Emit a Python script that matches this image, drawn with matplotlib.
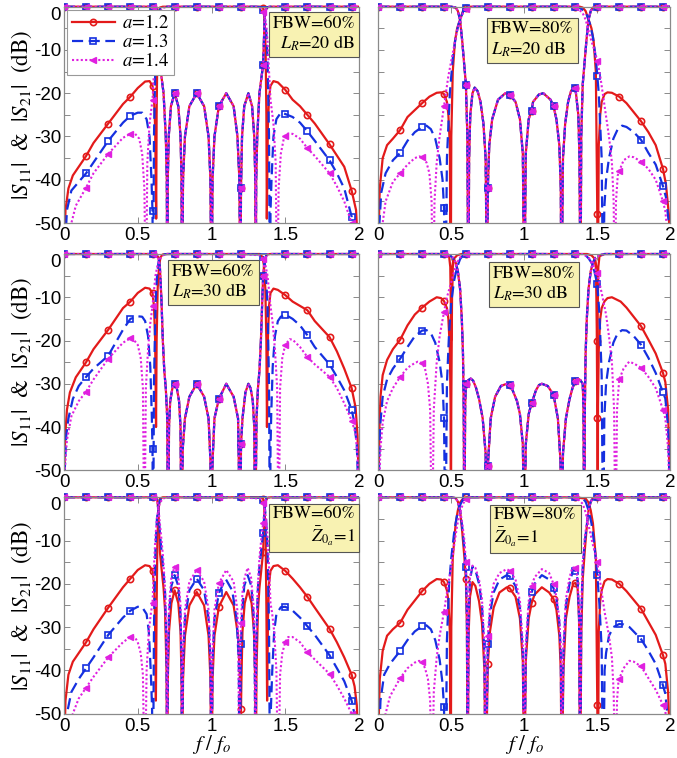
import numpy as np
import matplotlib
matplotlib.use("Agg")
import matplotlib.pyplot as plt
from matplotlib.transforms import Bbox, TransformedBbox

plt.rcParams['mathtext.fontset'] = 'stix'
plt.rcParams['font.family'] = ['Liberation Sans', 'DejaVu Sans']

# =============================================================================
# Data: (f/fo, dB) pairs, one list per curve
# =============================================================================

A_VALUES = [1.2, 1.3, 1.4]

# ---- Panel 1 : FBW=60%, LR=20 dB
P1_S21_12 = [(0, -70), (0.004, -55), (0.01, -47), (0.03, -42), (0.06, -39), (0.1, -37), (0.15, -34.5), (0.2, -31.5),
             (0.3, -27), (0.4, -22.5), (0.45, -20.8), (0.5, -18.8), (0.55, -17.3), (0.58, -17.2), (0.6, -18.3),
             (0.61, -21), (0.618, -28), (0.625, -49), (0.628, -25), (0.633, -10), (0.64, -3), (0.65, -0.2),
             (0.67, 0), (0.75, 0), (0.9, 0), (1.05, 0), (1.2, 0), (1.33, 0), (1.35, -0.2), (1.36, -3),
             (1.367, -10), (1.372, -25), (1.375, -49), (1.382, -28), (1.39, -21), (1.4, -18.3), (1.42, -17.2),
             (1.45, -17.5), (1.5, -19.2), (1.55, -21.5), (1.6, -23), (1.65, -25), (1.7, -27), (1.8, -31.8),
             (1.9, -37), (1.95, -42.5), (1.98, -47), (2.0, -60)]
P1_S21_13 = [(0, -70), (0.008, -55), (0.02, -47), (0.05, -42.5), (0.1, -40.5), (0.15, -38.5), (0.2, -36), (0.3, -31),
             (0.4, -26.8), (0.45, -25.2), (0.5, -24.5), (0.53, -24.5), (0.56, -26), (0.58, -30), (0.593, -40),
             (0.6, -47.3), (0.604, -70), (0.61, -30), (0.62, -12), (0.63, -5), (0.64, -2.2), (0.65, -0.7),
             (0.67, -0.1), (0.7, 0), (0.75, 0), (0.9, 0), (1.05, 0), (1.2, 0), (1.3, 0), (1.33, -0.1), (1.35, -0.7),
             (1.36, -2.2), (1.37, -5), (1.38, -12), (1.39, -30), (1.396, -70), (1.4, -47.3), (1.407, -40),
             (1.42, -30), (1.44, -26), (1.47, -24.5), (1.5, -24.8), (1.55, -25.5), (1.6, -26.8), (1.65, -28.8),
             (1.7, -31), (1.8, -35.5), (1.85, -38.5), (1.9, -42), (1.95, -48.5), (1.97, -60), (2.0, -70)]
P1_S21_14 = [(0, -70), (0.03, -60), (0.05, -50), (0.08, -46), (0.15, -41.8), (0.2, -38.5), (0.3, -34), (0.4, -30.3),
             (0.45, -29.4), (0.48, -29.3), (0.51, -30.5), (0.53, -34), (0.545, -42), (0.555, -70), (0.565, -36),
             (0.58, -27), (0.6, -21.5), (0.61, -15), (0.62, -8), (0.63, -4), (0.64, -2.2), (0.65, -1.3),
             (0.67, -0.3), (0.7, 0), (0.75, 0), (0.9, 0), (1.05, 0), (1.2, 0), (1.3, 0), (1.33, -0.3), (1.35, -1.3),
             (1.36, -2.2), (1.37, -4), (1.38, -8), (1.39, -15), (1.4, -21.5), (1.42, -27), (1.435, -36),
             (1.445, -70), (1.455, -42), (1.47, -34), (1.49, -30.5), (1.5, -29.8), (1.52, -29.3), (1.55, -29.4),
             (1.6, -30.5), (1.65, -32.7), (1.7, -34.5), (1.8, -38.5), (1.85, -41.5), (1.9, -45), (1.95, -50),
             (1.97, -60), (2.0, -70)]
P1_S11_12 = [(0, 0), (0.15, 0), (0.3, 0), (0.45, 0), (0.6, 0), (0.62, -0.1), (0.632, -0.6), (0.64, -3), (0.65, -13.5),
             (0.66, -16), (0.675, -20), (0.69, -30), (0.697, -40), (0.7, -70), (0.7035, -40), (0.71, -30),
             (0.725, -23), (0.75, -20), (0.775, -23), (0.79, -30), (0.797, -40), (0.8, -70), (0.807, -40),
             (0.82, -30), (0.85, -23), (0.9, -20), (0.95, -23), (0.98, -30), (0.993, -40), (1.0, -70),
             (1.007, -40), (1.02, -30), (1.05, -23), (1.1, -20), (1.15, -23), (1.176, -30), (1.189, -40),
             (1.196, -70), (1.2, -42), (1.207, -30), (1.222, -23), (1.25, -20), (1.275, -23), (1.29, -30),
             (1.297, -40), (1.3, -70), (1.303, -40), (1.31, -30), (1.325, -20), (1.34, -16), (1.35, -13.5),
             (1.36, -3), (1.368, -0.6), (1.38, -0.1), (1.4, 0), (1.5, 0), (1.65, 0), (1.8, 0), (1.95, 0), (2.0, 0)]
P1_S11_13 = P1_S11_12
P1_S11_14 = P1_S11_12

# ---- Panel 2 : FBW=80%, LR=20 dB
P2_S21_12 = [(0, -70), (0.004, -50), (0.01, -42), (0.03, -35), (0.06, -32), (0.1, -30.5), (0.15, -28.5), (0.2, -25.5),
             (0.3, -22.3), (0.35, -20.8), (0.4, -19.9), (0.43, -19.8), (0.45, -20.2), (0.47, -22), (0.48, -25),
             (0.49, -32), (0.496, -70), (0.5, -30), (0.51, -15), (0.525, -8), (0.54, -5), (0.56, -3), (0.58, -1),
             (0.6, -0.2), (0.62, 0), (0.75, 0), (0.9, 0), (1.05, 0), (1.2, 0), (1.35, 0), (1.38, 0), (1.4, -0.2),
             (1.42, -1), (1.44, -3), (1.46, -5), (1.475, -8), (1.49, -15), (1.5, -48), (1.503, -70), (1.51, -32),
             (1.52, -25), (1.53, -22), (1.55, -20.2), (1.57, -19.8), (1.6, -19.9), (1.65, -20.8), (1.7, -22.3),
             (1.8, -26.5), (1.85, -29), (1.9, -32), (1.95, -37.5), (1.97, -41), (1.99, -48), (2.0, -60)]
P2_S21_13 = [(0, -70), (0.008, -50), (0.02, -43), (0.05, -38.5), (0.1, -35.5), (0.15, -33.8), (0.2, -31), (0.25, -29),
             (0.3, -27.8), (0.33, -27.5), (0.36, -28.3), (0.39, -30.5), (0.42, -35), (0.44, -40), (0.45, -46.5),
             (0.46, -70), (0.47, -35), (0.49, -20), (0.51, -12), (0.53, -7), (0.55, -4), (0.56, -3), (0.58, -1.2),
             (0.6, -0.3), (0.62, 0), (0.75, 0), (0.9, 0), (1.05, 0), (1.2, 0), (1.35, 0), (1.38, -0.3),
             (1.42, -1.2), (1.44, -3), (1.45, -4), (1.47, -7), (1.49, -12), (1.5, -16), (1.51, -20), (1.53, -35),
             (1.54, -70), (1.548, -46.5), (1.56, -40), (1.58, -35), (1.61, -30.5), (1.64, -28.3), (1.67, -27.5),
             (1.7, -27.8), (1.75, -29), (1.8, -30.8), (1.85, -33.8), (1.9, -36.5), (1.95, -41.5), (1.97, -44),
             (1.99, -50), (2.0, -60)]
P2_S21_14 = [(0, -70), (0.02, -60), (0.03, -50), (0.05, -45), (0.1, -40.5), (0.15, -38.5), (0.2, -36.5), (0.25, -35),
             (0.28, -34.6), (0.3, -34.8), (0.33, -36), (0.35, -38.5), (0.365, -45), (0.375, -70), (0.385, -45),
             (0.4, -36), (0.42, -30), (0.45, -23), (0.48, -16), (0.5, -12.5), (0.52, -9), (0.54, -5.5), (0.56, -3),
             (0.58, -1.5), (0.6, -0.5), (0.63, 0), (0.75, 0), (0.9, 0), (1.05, 0), (1.2, 0), (1.35, 0), (1.37, -0.5),
             (1.4, -1.5), (1.42, -3), (1.44, -5.5), (1.46, -8), (1.48, -10), (1.5, -12.5), (1.52, -16), (1.55, -23),
             (1.58, -30), (1.6, -36), (1.612, -45), (1.62, -70), (1.628, -45), (1.64, -39), (1.65, -38),
             (1.68, -35.5), (1.72, -34.6), (1.75, -34.8), (1.8, -35.8), (1.85, -37.5), (1.9, -40), (1.95, -45),
             (1.966, -47.3), (1.98, -52), (2.0, -70)]
P2_S11_12 = [(0, 0), (0.15, 0), (0.3, 0), (0.45, 0), (0.5, 0), (0.53, -0.2), (0.545, -1), (0.56, -3), (0.575, -8),
             (0.6, -18), (0.61, -30), (0.617, -70), (0.622, -35), (0.63, -25), (0.645, -20), (0.66, -18.7),
             (0.68, -19.5), (0.7, -22), (0.72, -27), (0.735, -35), (0.746, -70), (0.75, -42), (0.76, -32),
             (0.78, -26), (0.82, -21.5), (0.87, -20), (0.9, -20.3), (0.94, -22), (0.97, -26), (0.99, -34), (1.0, -70),
             (1.01, -34), (1.03, -26), (1.05, -24), (1.06, -22), (1.1, -20.3), (1.13, -20), (1.18, -21.5),
             (1.2, -23), (1.22, -26), (1.24, -32), (1.25, -42), (1.254, -70), (1.265, -35), (1.28, -27), (1.3, -22),
             (1.32, -19.5), (1.335, -18.7), (1.35, -18.8), (1.37, -25), (1.378, -35), (1.385, -70), (1.39, -30),
             (1.4, -18), (1.425, -8), (1.44, -3), (1.455, -1), (1.47, -0.2), (1.5, 0), (1.65, 0), (1.8, 0),
             (1.95, 0), (2.0, 0)]
P2_S11_13 = P2_S11_12
P2_S11_14 = P2_S11_12

# ---- Panel 3 : FBW=60%, LR=30 dB
P3_S21_12 = [(0, -70), (0.003, -50), (0.008, -42), (0.02, -36), (0.04, -32), (0.08, -28.5), (0.15, -25), (0.2, -22),
             (0.3, -17.5), (0.4, -12.5), (0.45, -11), (0.5, -9), (0.55, -7.8), (0.58, -8), (0.6, -9), (0.61, -12),
             (0.618, -20), (0.624, -40), (0.628, -20), (0.635, -8), (0.645, -2.5), (0.655, -0.7), (0.67, -0.1),
             (0.7, 0), (0.75, 0), (0.9, 0), (1.05, 0), (1.2, 0), (1.33, 0), (1.345, -0.7), (1.355, -2.5),
             (1.365, -8), (1.372, -20), (1.376, -40), (1.382, -20), (1.39, -12), (1.4, -9), (1.42, -8),
             (1.45, -8.3), (1.5, -9.5), (1.55, -11), (1.6, -12), (1.65, -13), (1.7, -15.5), (1.8, -19.2),
             (1.85, -22.5), (1.9, -26.5), (1.95, -31), (1.977, -35.5), (1.99, -42), (2.0, -55)]
P3_S21_13 = [(0, -70), (0.005, -50), (0.015, -42), (0.03, -38), (0.06, -33.5), (0.1, -30.5), (0.15, -28.4),
             (0.2, -26.5), (0.3, -23.5), (0.35, -20.5), (0.4, -17.5), (0.45, -15), (0.5, -14.4), (0.53, -14.5),
             (0.55, -15.5), (0.57, -19), (0.585, -26), (0.595, -37), (0.6, -45), (0.604, -70), (0.61, -30),
             (0.62, -12), (0.63, -5.5), (0.64, -2), (0.65, -0.7), (0.67, -0.1), (0.7, 0), (0.75, 0), (0.9, 0),
             (1.05, 0), (1.2, 0), (1.33, -0.1), (1.35, -0.7), (1.36, -2), (1.37, -5.5), (1.38, -12), (1.39, -30),
             (1.396, -70), (1.4, -45), (1.405, -37), (1.415, -26), (1.43, -19), (1.45, -15.5), (1.47, -14.5),
             (1.5, -14), (1.55, -15), (1.6, -16.5), (1.65, -18.8), (1.7, -21.5), (1.8, -25.5), (1.85, -28.4),
             (1.9, -31.5), (1.95, -36), (1.966, -38.5), (1.985, -44), (2.0, -60)]
P3_S21_14 = [(0, -70), (0.005, -50), (0.02, -43), (0.05, -37.5), (0.1, -34), (0.15, -31.8), (0.2, -29), (0.3, -24.2),
             (0.4, -20.5), (0.45, -19.5), (0.47, -19.7), (0.5, -21), (0.52, -24), (0.535, -31), (0.545, -70),
             (0.555, -31), (0.57, -22), (0.585, -16), (0.6, -12), (0.61, -8.5), (0.62, -5), (0.635, -2.5),
             (0.65, -1.2), (0.67, -0.3), (0.7, 0), (0.75, 0), (0.9, 0), (1.05, 0), (1.2, 0), (1.33, -0.3),
             (1.35, -1.2), (1.365, -2.5), (1.38, -5), (1.39, -8.5), (1.4, -12), (1.415, -16), (1.43, -22),
             (1.445, -31), (1.455, -70), (1.465, -31), (1.48, -24), (1.5, -21), (1.53, -19.7), (1.55, -19.8),
             (1.6, -21.5), (1.65, -23.8), (1.7, -25.5), (1.8, -28.4), (1.85, -31), (1.9, -34.5), (1.95, -38.5),
             (1.977, -41.5), (1.99, -47), (2.0, -60)]
P3_S11_12 = [(0, 0), (0.15, 0), (0.3, 0), (0.45, 0), (0.6, 0), (0.625, -0.1), (0.64, -0.8), (0.65, -3), (0.66, -10),
             (0.67, -20), (0.68, -27), (0.69, -31), (0.7, -38), (0.706, -70), (0.712, -40), (0.72, -34),
             (0.735, -31), (0.75, -30), (0.765, -31), (0.78, -34), (0.79, -40), (0.797, -70), (0.805, -45),
             (0.82, -38), (0.85, -33), (0.9, -30), (0.95, -33), (0.98, -38), (0.993, -48), (1.0, -70), (1.007, -48),
             (1.02, -38), (1.05, -33.5), (1.1, -30), (1.15, -33), (1.18, -38), (1.196, -70), (1.2, -44),
             (1.21, -38), (1.23, -32), (1.25, -30), (1.265, -31), (1.28, -34), (1.29, -40), (1.296, -70),
             (1.305, -38), (1.315, -31), (1.325, -27), (1.335, -20), (1.345, -10), (1.35, -5), (1.36, -1.5),
             (1.375, -0.1), (1.4, 0), (1.5, 0), (1.65, 0), (1.8, 0), (1.95, 0), (2.0, 0)]
P3_S11_13 = P3_S11_12
P3_S11_14 = P3_S11_12

# ---- Panel 4 : FBW=80%, LR=30 dB
P4_S21_12 = [(0, -70), (0.003, -50), (0.008, -40), (0.015, -33), (0.03, -28), (0.06, -24.5), (0.1, -22), (0.15, -19.8),
             (0.2, -16.5), (0.25, -14), (0.3, -12.4), (0.35, -11), (0.4, -10), (0.43, -10.2), (0.45, -10.9),
             (0.47, -12.5), (0.48, -15), (0.49, -22), (0.495, -35), (0.497, -70), (0.5, -35), (0.505, -10),
             (0.51, -3), (0.52, -1), (0.54, -0.3), (0.57, 0), (0.6, 0), (0.75, 0), (0.9, 0), (1.05, 0), (1.2, 0),
             (1.35, 0), (1.43, 0), (1.46, -0.3), (1.48, -1), (1.49, -3), (1.495, -10), (1.5, -38), (1.503, -70),
             (1.505, -35), (1.51, -22), (1.52, -15), (1.53, -12.5), (1.55, -10.9), (1.57, -10.2), (1.6, -10),
             (1.66, -11), (1.7, -12.4), (1.8, -16.7), (1.85, -19.8), (1.9, -23), (1.95, -27.5), (1.966, -29.6),
             (1.985, -36), (2.0, -60)]
P4_S21_13 = [(0, -70), (0.005, -50), (0.012, -40), (0.03, -33), (0.06, -29), (0.1, -26.5), (0.15, -24.2),
             (0.2, -21.5), (0.25, -19), (0.3, -17.7), (0.33, -17.6), (0.36, -18.3), (0.39, -20.5), (0.42, -25),
             (0.44, -30), (0.45, -38), (0.46, -70), (0.47, -30), (0.485, -18), (0.5, -11), (0.52, -6), (0.54, -3),
             (0.56, -1.2), (0.58, -0.3), (0.6, 0), (0.75, 0), (0.9, 0), (1.05, 0), (1.2, 0), (1.35, 0), (1.4, 0),
             (1.42, -0.3), (1.44, -1), (1.46, -2), (1.48, -4), (1.5, -7), (1.515, -14), (1.53, -28), (1.54, -70),
             (1.548, -38), (1.56, -30), (1.58, -25), (1.61, -20.5), (1.64, -18.3), (1.67, -17.6), (1.7, -17.7),
             (1.75, -19), (1.8, -21), (1.85, -24), (1.9, -27.5), (1.95, -32), (1.966, -33.4), (1.985, -40),
             (2.0, -60)]
P4_S21_14 = [(0, -70), (0.005, -55), (0.015, -45), (0.03, -39), (0.06, -34), (0.1, -31), (0.15, -28.4), (0.2, -26.3),
             (0.25, -25.2), (0.27, -24.9), (0.3, -25.2), (0.32, -26.5), (0.34, -30), (0.355, -36), (0.368, -70),
             (0.38, -36), (0.4, -25), (0.42, -19), (0.45, -13.4), (0.47, -10), (0.5, -6.5), (0.52, -4), (0.54, -2),
             (0.56, -0.8), (0.6, 0), (0.75, 0), (0.9, 0), (1.05, 0), (1.2, 0), (1.35, 0), (1.4, 0), (1.44, -0.8),
             (1.46, -2), (1.48, -3), (1.5, -4.5), (1.53, -9), (1.56, -14), (1.58, -19), (1.6, -25), (1.615, -36),
             (1.625, -70), (1.635, -36), (1.65, -29), (1.68, -26.5), (1.718, -24.9), (1.75, -25.3), (1.8, -26.3),
             (1.85, -28.4), (1.9, -31), (1.95, -36), (1.966, -38), (1.985, -45), (2.0, -60)]
P4_S11_13 = [(0, 0), (0.15, 0), (0.3, 0), (0.45, 0), (0.48, -0.2), (0.51, -0.8), (0.53, -2), (0.545, -4), (0.56, -8),
             (0.572, -15), (0.58, -23), (0.585, -35), (0.589, -70), (0.595, -35), (0.6, -30), (0.615, -29.2),
             (0.633, -28.8), (0.65, -29.3), (0.67, -31), (0.69, -33.5), (0.715, -38), (0.735, -46), (0.745, -70),
             (0.75, -49), (0.77, -38), (0.8, -33), (0.84, -30.5), (0.88, -30), (0.9, -30.3), (0.92, -31.5),
             (0.95, -34), (0.97, -37), (0.99, -44), (1.0, -70), (1.01, -44), (1.03, -37), (1.05, -34.5),
             (1.08, -31.5), (1.1, -30.3), (1.12, -30), (1.16, -30.5), (1.2, -32.5), (1.23, -38), (1.248, -48),
             (1.255, -70), (1.265, -46), (1.285, -38), (1.31, -33.5), (1.33, -31), (1.35, -29.3), (1.367, -28.8),
             (1.385, -29.2), (1.4, -30), (1.405, -35), (1.411, -70), (1.415, -35), (1.42, -23), (1.428, -15),
             (1.44, -8), (1.455, -4), (1.47, -2), (1.49, -0.8), (1.52, -0.2), (1.55, 0), (1.65, 0), (1.8, 0),
             (1.95, 0), (2.0, 0)]
P4_S11_14 = P4_S11_13
P4_S11_12 = [(0, 0), (0.15, 0), (0.3, 0), (0.45, 0), (0.485, -0.5), (0.493, -3), (0.5, -20), (0.507, -3),
             (0.515, -1), (0.53, -2), (0.545, -4), (0.56, -8),
             (0.572, -15), (0.58, -23), (0.585, -35), (0.589, -70), (0.595, -35), (0.6, -30), (0.615, -29.2),
             (0.633, -28.8), (0.65, -29.3), (0.67, -31), (0.69, -33.5), (0.715, -38), (0.735, -46), (0.745, -70),
             (0.75, -49), (0.77, -38), (0.8, -33), (0.84, -30.5), (0.88, -30), (0.9, -30.3), (0.92, -31.5),
             (0.95, -34), (0.97, -37), (0.99, -44), (1.0, -70), (1.01, -44), (1.03, -37), (1.05, -34.5),
             (1.08, -31.5), (1.1, -30.3), (1.12, -30), (1.16, -30.5), (1.2, -32.5), (1.23, -38), (1.248, -48),
             (1.255, -70), (1.265, -46), (1.285, -38), (1.31, -33.5), (1.33, -31), (1.35, -29.3), (1.367, -28.8),
             (1.385, -29.2), (1.4, -30), (1.405, -35), (1.411, -70), (1.415, -35), (1.42, -23), (1.428, -15),
             (1.44, -8), (1.455, -4), (1.47, -2), (1.485, -1), (1.493, -3), (1.5, -20), (1.507, -3),
             (1.515, -0.5), (1.55, 0), (1.65, 0), (1.8, 0), (1.95, 0), (2.0, 0)]

# ---- Panel 5 : FBW=60%, Z0a=1
P5_S21_12 = [(0, -70), (0.004, -55), (0.01, -47), (0.03, -41), (0.06, -38), (0.1, -36), (0.15, -33.5), (0.2, -30.5),
             (0.3, -25.5), (0.4, -20.8), (0.45, -18.8), (0.5, -16.8), (0.55, -15.7), (0.58, -15.9), (0.6, -17),
             (0.61, -20), (0.617, -28), (0.623, -47), (0.628, -25), (0.633, -10), (0.64, -3), (0.65, -0.3),
             (0.67, 0), (0.75, 0), (0.9, 0), (1.05, 0), (1.2, 0), (1.33, 0), (1.35, -0.3), (1.36, -3), (1.367, -10),
             (1.372, -25), (1.377, -47), (1.383, -28), (1.39, -20), (1.4, -17), (1.42, -15.9), (1.45, -15.7),
             (1.5, -17), (1.55, -18.8), (1.6, -20.8), (1.65, -23), (1.7, -25.5), (1.8, -30.4), (1.85, -33.5),
             (1.9, -37), (1.95, -41), (1.97, -43.7), (1.985, -48), (2.0, -60)]
P5_S21_13 = [(0, -70), (0.01, -58), (0.02, -50), (0.05, -45), (0.1, -42), (0.15, -39.5), (0.2, -37), (0.3, -31.8),
             (0.4, -27.8), (0.45, -26.2), (0.5, -25.3), (0.53, -25.4), (0.56, -27), (0.575, -31), (0.588, -40),
             (0.597, -48.5), (0.603, -70), (0.61, -30), (0.62, -12), (0.63, -5), (0.64, -2), (0.65, -0.7),
             (0.67, -0.1), (0.7, 0), (0.75, 0), (0.9, 0), (1.05, 0), (1.2, 0), (1.33, -0.1), (1.35, -0.7),
             (1.36, -2), (1.37, -5), (1.38, -12), (1.39, -30), (1.397, -70), (1.403, -48.5), (1.412, -40),
             (1.425, -31), (1.44, -27), (1.47, -25.4), (1.5, -25.3), (1.55, -26.2), (1.6, -27.8), (1.65, -29.8),
             (1.7, -31.8), (1.8, -36.5), (1.85, -39.5), (1.9, -42.5), (1.95, -47), (1.966, -49.6), (1.98, -58),
             (2.0, -70)]
P5_S21_14 = [(0, -70), (0.03, -60), (0.06, -50), (0.1, -46.5), (0.15, -44), (0.2, -41.5), (0.3, -37), (0.4, -33.5),
             (0.45, -32.3), (0.48, -32.3), (0.5, -33.5), (0.52, -36), (0.535, -41), (0.548, -70), (0.56, -40),
             (0.575, -31), (0.59, -26.5), (0.6, -24.5), (0.61, -16), (0.62, -9), (0.63, -5), (0.64, -2.5),
             (0.65, -1.3), (0.67, -0.3), (0.7, 0), (0.75, 0), (0.9, 0), (1.05, 0), (1.2, 0), (1.33, -0.3),
             (1.35, -1.3), (1.36, -2.5), (1.37, -5), (1.38, -9), (1.39, -16), (1.4, -24.5), (1.41, -26.5),
             (1.425, -31), (1.44, -40), (1.452, -70), (1.465, -41), (1.48, -36), (1.5, -33.5), (1.52, -32.3),
             (1.55, -32.3), (1.6, -33.5), (1.65, -35.8), (1.7, -37.5), (1.8, -40.8), (1.85, -43.5), (1.9, -46.5),
             (1.95, -50), (1.97, -60), (2.0, -70)]
P5_S11_12 = [(0, 0), (0.15, 0), (0.3, 0), (0.45, 0), (0.6, 0), (0.62, -0.1), (0.632, -0.6), (0.64, -3), (0.65, -12.6),
             (0.66, -16), (0.675, -21), (0.685, -26), (0.695, -40), (0.7, -70), (0.704, -42), (0.712, -31),
             (0.728, -24.5), (0.75, -21.5), (0.775, -24.5), (0.79, -31), (0.797, -42), (0.8, -70), (0.807, -42),
             (0.82, -32), (0.85, -25), (0.9, -21.9), (0.95, -25), (0.98, -32), (0.993, -42), (1.0, -70),
             (1.007, -42), (1.02, -32), (1.05, -25.3), (1.1, -21.9), (1.15, -25), (1.18, -32), (1.193, -42),
             (1.198, -70), (1.2, -49), (1.203, -42), (1.21, -31), (1.225, -24.5), (1.248, -21.5), (1.272, -24.5),
             (1.288, -31), (1.296, -42), (1.3, -70), (1.305, -40), (1.315, -26), (1.325, -21), (1.34, -16),
             (1.35, -12.6), (1.36, -3), (1.368, -0.6), (1.38, -0.1), (1.4, 0), (1.5, 0), (1.65, 0), (1.8, 0),
             (1.95, 0), (2.0, 0)]
P5_S11_13 = [(0, 0), (0.15, 0), (0.3, 0), (0.45, 0), (0.6, 0), (0.62, -0.1), (0.632, -0.6), (0.64, -3), (0.65, -8.3),
             (0.66, -12), (0.672, -16), (0.685, -22), (0.695, -35), (0.7, -70), (0.704, -38), (0.712, -27),
             (0.728, -20.5), (0.75, -18), (0.775, -20.5), (0.79, -27), (0.797, -38), (0.8, -70), (0.807, -38),
             (0.82, -28), (0.85, -21.5), (0.9, -18.8), (0.95, -21.5), (0.98, -28), (0.993, -38), (1.0, -70),
             (1.007, -38), (1.02, -28), (1.05, -22.2), (1.095, -18.8), (1.14, -21.5), (1.17, -28), (1.185, -38),
             (1.19, -70), (1.2, -34), (1.207, -27), (1.222, -20.5), (1.245, -18), (1.27, -20.5), (1.285, -27),
             (1.293, -38), (1.298, -70), (1.303, -35), (1.313, -22), (1.325, -16), (1.338, -12), (1.35, -8.3),
             (1.36, -3), (1.368, -0.6), (1.38, -0.1), (1.4, 0), (1.5, 0), (1.65, 0), (1.8, 0), (1.95, 0), (2.0, 0)]
P5_S11_14 = [(0, 0), (0.15, 0), (0.3, 0), (0.45, 0), (0.6, 0), (0.62, -0.1), (0.632, -0.6), (0.64, -2.5), (0.65, -6),
             (0.66, -9.5), (0.672, -14), (0.685, -21), (0.695, -33), (0.7, -70), (0.704, -36), (0.712, -25),
             (0.728, -18.5), (0.75, -16), (0.775, -18.5), (0.79, -25), (0.797, -36), (0.8, -70), (0.807, -36),
             (0.82, -26), (0.85, -19.5), (0.9, -16.8), (0.95, -19.5), (0.98, -26), (0.993, -36), (1.0, -70),
             (1.007, -36), (1.02, -26), (1.05, -19.9), (1.1, -16.8), (1.15, -19.5), (1.175, -26), (1.183, -36),
             (1.188, -70), (1.195, -36), (1.2, -29), (1.21, -22), (1.225, -18.5), (1.245, -16.3), (1.268, -18.5),
             (1.285, -25), (1.293, -36), (1.298, -70), (1.303, -33), (1.313, -21), (1.325, -14), (1.338, -9.5),
             (1.35, -6), (1.36, -2.5), (1.368, -0.6), (1.38, -0.1), (1.4, 0), (1.5, 0), (1.65, 0), (1.8, 0),
             (1.95, 0), (2.0, 0)]

# ---- Panel 6 : FBW=80%, Z0a=1
P6_S21_12 = [(0, -70), (0.004, -50), (0.01, -42), (0.03, -35.5), (0.06, -32), (0.1, -30.5), (0.15, -29), (0.2, -26),
             (0.3, -21.7), (0.35, -20), (0.4, -18.9), (0.43, -19), (0.45, -19.6), (0.47, -21.5), (0.48, -24),
             (0.49, -31), (0.496, -70), (0.5, -30), (0.51, -14), (0.53, -6), (0.545, -3), (0.56, -1.2),
             (0.58, -0.3), (0.6, 0), (0.75, 0), (0.9, 0), (1.05, 0), (1.2, 0), (1.35, 0), (1.42, -0.3),
             (1.44, -1.2), (1.455, -3), (1.47, -6), (1.49, -14), (1.5, -48), (1.504, -70), (1.51, -31), (1.52, -24),
             (1.53, -21.5), (1.55, -19.4), (1.57, -18.9), (1.6, -19), (1.65, -20), (1.7, -21.7), (1.8, -25.8),
             (1.85, -28.8), (1.9, -31.8), (1.95, -36.5), (1.966, -38.5), (1.985, -45), (2.0, -60)]
P6_S21_13 = [(0, -70), (0.006, -55), (0.015, -47), (0.04, -41), (0.08, -38.5), (0.15, -35.5), (0.2, -33), (0.25, -31),
             (0.3, -29.8), (0.33, -29.6), (0.36, -30.5), (0.39, -33), (0.42, -37.5), (0.44, -43), (0.45, -48.5),
             (0.46, -70), (0.47, -33), (0.485, -20), (0.5, -14), (0.52, -8), (0.54, -4), (0.56, -1.8),
             (0.58, -0.5), (0.6, 0), (0.75, 0), (0.9, 0), (1.05, 0), (1.2, 0), (1.35, 0), (1.4, -0.3), (1.42, -1),
             (1.44, -3), (1.46, -6), (1.48, -11), (1.5, -18), (1.515, -25), (1.53, -35), (1.54, -70), (1.55, -40),
             (1.56, -36), (1.58, -32), (1.61, -30), (1.65, -29.3), (1.68, -29.4), (1.72, -30), (1.8, -32.8),
             (1.85, -35.5), (1.9, -38.5), (1.95, -43.5), (1.966, -45.4), (1.985, -52), (2.0, -65)]
P6_S21_14 = [(0, -70), (0.03, -60), (0.05, -50), (0.08, -46), (0.15, -41.8), (0.2, -39.5), (0.25, -38.2), (0.28, -37.8),
             (0.3, -38.1), (0.32, -39.5), (0.34, -42), (0.355, -47), (0.368, -70), (0.38, -45), (0.4, -37),
             (0.42, -32), (0.45, -26.5), (0.47, -22), (0.5, -16), (0.52, -11), (0.54, -6.5), (0.56, -3.5),
             (0.58, -1.5), (0.6, -0.5), (0.63, 0), (0.75, 0), (0.9, 0), (1.05, 0), (1.2, 0), (1.35, 0), (1.37, -0.5),
             (1.4, -1.5), (1.42, -3.5), (1.44, -6.5), (1.47, -11), (1.5, -15), (1.53, -22), (1.55, -26.5),
             (1.58, -32), (1.6, -37), (1.612, -45), (1.625, -70), (1.635, -47), (1.645, -42.5), (1.65, -42),
             (1.68, -39.5), (1.72, -37.8), (1.75, -38), (1.8, -39.1), (1.85, -41.8), (1.9, -44.5), (1.95, -48),
             (1.966, -49.3), (1.98, -55), (2.0, -70)]
P6_S11_12 = [(0, 0), (0.15, 0), (0.3, 0), (0.45, 0), (0.5, 0), (0.53, -0.2), (0.545, -1), (0.56, -3), (0.575, -8),
             (0.59, -14), (0.6, -19), (0.607, -30), (0.612, -70), (0.618, -32), (0.628, -23), (0.645, -19.6),
             (0.665, -20.5), (0.69, -24), (0.71, -29), (0.727, -40), (0.735, -70), (0.75, -38.5), (0.765, -31),
             (0.79, -25.5), (0.83, -22), (0.88, -20.8), (0.9, -21), (0.94, -23), (0.97, -28), (0.99, -38),
             (1.0, -70), (1.01, -38), (1.03, -28), (1.05, -24.5), (1.07, -22.5), (1.12, -20.8), (1.17, -22),
             (1.2, -23.5), (1.22, -26), (1.24, -32), (1.25, -40), (1.256, -70), (1.268, -40), (1.285, -28),
             (1.31, -23), (1.335, -20), (1.35, -19.8), (1.365, -21), (1.375, -28), (1.383, -70), (1.39, -32),
             (1.4, -19), (1.415, -12), (1.43, -6), (1.44, -3), (1.455, -1), (1.47, -0.2), (1.5, 0), (1.65, 0),
             (1.8, 0), (1.95, 0), (2.0, 0)]
P6_S11_13 = [(0, 0), (0.15, 0), (0.3, 0), (0.45, 0), (0.5, 0), (0.53, -0.2), (0.545, -1), (0.56, -3), (0.575, -7),
             (0.59, -12), (0.6, -16.2), (0.607, -28), (0.612, -70), (0.618, -28), (0.628, -19), (0.645, -16),
             (0.665, -16.8), (0.69, -20), (0.71, -25), (0.727, -36), (0.735, -70), (0.75, -34), (0.765, -27),
             (0.79, -22), (0.83, -19), (0.88, -18), (0.9, -18.3), (0.94, -20.5), (0.97, -25.5), (0.99, -36),
             (1.0, -70), (1.01, -36), (1.03, -25.5), (1.05, -22), (1.07, -20), (1.12, -18), (1.17, -19), (1.2, -21),
             (1.22, -23.5), (1.24, -29), (1.25, -36), (1.256, -70), (1.268, -36), (1.285, -25), (1.31, -20),
             (1.335, -16.6), (1.35, -17), (1.365, -19), (1.375, -28), (1.383, -70), (1.39, -28), (1.4, -16.2),
             (1.415, -10), (1.43, -6), (1.44, -3), (1.455, -1), (1.47, -0.2), (1.5, 0), (1.65, 0), (1.8, 0),
             (1.95, 0), (2.0, 0)]
P6_S11_14 = [(0, 0), (0.15, 0), (0.3, 0), (0.45, 0), (0.5, 0), (0.53, -0.2), (0.545, -1), (0.56, -3), (0.575, -6),
             (0.59, -10), (0.6, -15), (0.607, -26), (0.612, -70), (0.618, -27), (0.628, -18.5), (0.645, -15.8),
             (0.665, -16.3), (0.69, -19), (0.71, -23.5), (0.727, -34), (0.735, -70), (0.75, -32), (0.765, -25),
             (0.79, -20), (0.83, -17.5), (0.88, -16.6), (0.9, -17), (0.94, -19), (0.97, -24), (0.99, -34),
             (1.0, -70), (1.01, -34), (1.03, -24), (1.05, -20.5), (1.07, -18.5), (1.12, -16.6), (1.17, -17.5),
             (1.2, -20), (1.22, -23), (1.24, -28), (1.25, -35), (1.256, -70), (1.268, -34), (1.285, -23.5),
             (1.31, -18.5), (1.33, -16.2), (1.35, -16.3), (1.365, -18.5), (1.375, -27), (1.383, -70), (1.39, -26),
             (1.4, -15), (1.415, -9), (1.43, -5.5), (1.44, -3), (1.455, -1), (1.47, -0.2), (1.5, 0), (1.65, 0),
             (1.8, 0), (1.95, 0), (2.0, 0)]

# annotation texts
BOX_LINE1 = ['FBW=60%', 'FBW=80%', 'FBW=60%', 'FBW=80%', 'FBW=60%', 'FBW=80%']
BOX_LINE2 = [r'$L_R$=20 dB', r'$L_R$=20 dB', r'$L_R$=30 dB', r'$L_R$=30 dB',
             r'$\bar{Z}_{0_a}$=1', r'$\bar{Z}_{0_a}$=1']

S21_ALL = [[P1_S21_12, P1_S21_13, P1_S21_14], [P2_S21_12, P2_S21_13, P2_S21_14],
           [P3_S21_12, P3_S21_13, P3_S21_14], [P4_S21_12, P4_S21_13, P4_S21_14],
           [P5_S21_12, P5_S21_13, P5_S21_14], [P6_S21_12, P6_S21_13, P6_S21_14]]
S11_ALL = [[P1_S11_12, P1_S11_13, P1_S11_14], [P2_S11_12, P2_S11_13, P2_S11_14],
           [P3_S11_12, P3_S11_13, P3_S11_14], [P4_S11_12, P4_S11_13, P4_S11_14],
           [P5_S11_12, P5_S11_13, P5_S11_14], [P6_S11_12, P6_S11_13, P6_S11_14]]

# =============================================================================
# Styles / layout
# =============================================================================

STYLES = [dict(color='#e31a1a', lw=1.6, marker='o', ms=4.5, mfc='none', mew=1.2, dashes=None),
          dict(color='#1530e0', lw=1.6, marker='s', ms=4.0, mfc='none', mew=1.2, dashes=(5, 2.5)),
          dict(color='#e020e0', lw=1.5, marker='<', ms=5.0, mfc='#e020e0', mew=1.0, dashes=(1, 1.1))]

W, H = 677, 758
COL_X = [64, 378.3]
COL_W = [295, 292]
ROW_TOP = [6.7, 254, 497.3]
ROW_H = 216.3

BOX_POS = [(1.0, 0.978, 'right'), (0.375, 0.952, 'left'), (0.355, 0.975, 'left'),
           (0.38, 0.966, 'left'), (1.0, 0.978, 'right'), (0.385, 0.975, 'left')]

BOX_FC = '#f8f2b2'
FRAME = '#8a8a8a'


def xy(pairs):
    a = np.array(pairs, dtype=float)
    return a[:, 0], a[:, 1]


def marker_idx(x, y):
    k = x / 0.15
    return [i for i in range(len(x)) if abs(k[i] - round(k[i])) < 1e-6 and y[i] >= -50.5]


def draw_curve(ax, pairs, st, label=None):
    x, y = xy(pairs)
    kw = dict(color=st['color'], lw=st['lw'], marker=st['marker'], ms=st['ms'], mfc=st['mfc'],
              mec=st['color'], mew=st['mew'], markevery=marker_idx(x, y), label=label)
    line, = ax.plot(x, y, **kw)
    if st['dashes'] is not None:
        line.set_dashes(st['dashes'])
    # clip at the bottom of the axes but let the 0 dB trace sit on the top frame
    line.set_clip_path(None)
    line.set_clip_box(TransformedBbox(Bbox([[0, 0], [1, 1.03]]), ax.transAxes))
    return line


fig = plt.figure(figsize=(W / 100, H / 100), dpi=100)

for p in range(6):
    row, col = divmod(p, 2)
    left = COL_X[col] / W
    bottom = 1 - (ROW_TOP[row] + ROW_H) / H
    ax = fig.add_axes([left, bottom, COL_W[col] / W, ROW_H / H])

    handles = []
    for j, st in enumerate(STYLES):
        h = draw_curve(ax, S21_ALL[p][j], st, label=r'$a$=%.1f' % A_VALUES[j])
        draw_curve(ax, S11_ALL[p][j], st)
        handles.append(h)

    ax.set_xlim(0, 2)
    ax.set_ylim(-50, 0)
    ax.set_xticks([0, 0.5, 1, 1.5, 2])
    ax.set_xticklabels(['0', '0.5', '1', '1.5', '2'])
    ax.set_yticks(np.arange(-50, 1, 5))
    ax.set_yticklabels([str(v) if v % 10 == 0 else '' for v in range(-50, 1, 5)])
    ax.tick_params(direction='in', top=True, right=True, length=4, width=0.7, color=FRAME,
                   labelsize=13.5, pad=2)
    ax.tick_params(axis='x', pad=3)
    for s in ax.spines.values():
        s.set_color(FRAME)
        s.set_linewidth(0.9)

    if col == 1:
        ax.tick_params(labelleft=False)
    else:
        ax.set_ylabel(r'$|S_{11}|$  &  $|S_{21}|$  (dB)', fontsize=16.5, family='STIXGeneral', labelpad=0)
        for lbl in ax.get_yticklabels():
            if lbl.get_text() == '0':
                lbl.set_verticalalignment('top')
    if row == 2:
        ax.set_xlabel(r'$f\ /\ f_o$', fontsize=15, labelpad=-1)

    bx, by, ha = BOX_POS[p]
    off = -0.012 if ha == 'right' else 0.012
    ax.text(bx + off, by - 0.02, BOX_LINE1[p] + '\n' + BOX_LINE2[p], transform=ax.transAxes,
            ha=ha, va='top', fontsize=13, family='STIXGeneral', linespacing=1.15,
            bbox=dict(boxstyle='square,pad=0.22', fc=BOX_FC, ec='#555555', lw=0.8), zorder=10)

    if p == 0:
        leg = ax.legend(handles=handles, loc='upper left', bbox_to_anchor=(0.0, 1.0),
                        prop={'family': 'STIXGeneral', 'size': 13.5}, handlelength=2.3,
                        handletextpad=0.4, labelspacing=0.05, borderpad=0.25,
                        borderaxespad=0.15, fancybox=False, edgecolor='#999999', framealpha=1)
        leg.get_frame().set_linewidth(0.8)
        leg.set_zorder(11)

fig.savefig('out.png', dpi=100)
